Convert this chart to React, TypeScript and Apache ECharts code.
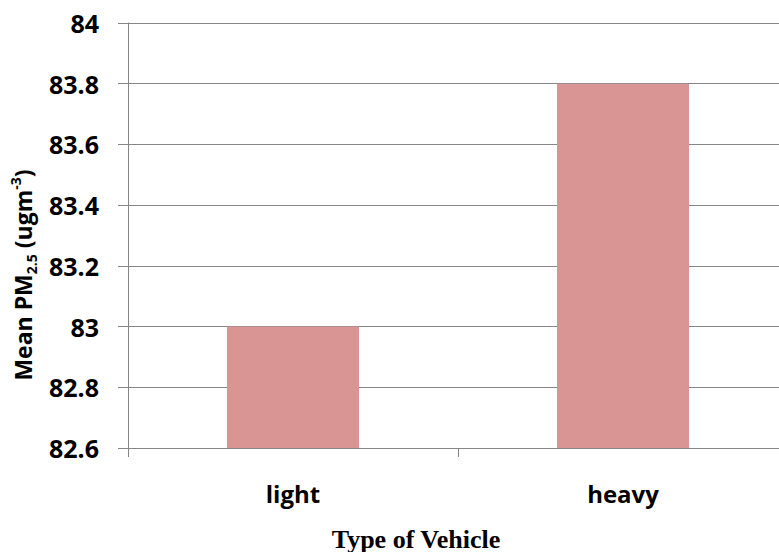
import React, { useEffect, useRef } from "react";
import * as echarts from "echarts";

const categories = ["light", "heavy"];
const meanPM25 = [83.0, 83.8];
const yMin = 82.6;
const yMax = 84;
const yInterval = 0.2;
const xTitle = "Type of Vehicle";

export default function App() {
  const ref = useRef<HTMLDivElement>(null);
  useEffect(() => {
    if (!ref.current) return;
    const chart = echarts.init(ref.current, null, { renderer: "svg" });
    const grey = "#858585";
    const sans = "'Open Sans', 'Noto Sans', sans-serif";
    chart.setOption({
      animation: false,
      backgroundColor: "#ffffff",
      grid: { left: 128, top: 23, width: 660, height: 425, containLabel: false },
      xAxis: {
        type: "category",
        data: categories,
        boundaryGap: true,
        axisLine: { show: true, lineStyle: { color: grey, width: 1 } },
        axisTick: { show: true, length: 9, alignWithLabel: false, lineStyle: { color: grey, width: 1 } },
        axisLabel: {
          margin: 33,
          color: "#000",
          fontFamily: sans,
          fontWeight: "bold",
          fontSize: 24,
        },
        splitLine: { show: false },
      },
      yAxis: {
        type: "value",
        min: yMin,
        max: yMax,
        interval: yInterval,
        axisLine: { show: true, lineStyle: { color: grey, width: 1 } },
        axisTick: { show: true, length: 10, lineStyle: { color: grey, width: 1 } },
        axisLabel: {
          margin: 29,
          color: "#000",
          fontFamily: sans,
          fontWeight: "bold",
          fontSize: 25,
        },
        splitLine: { show: true, lineStyle: { color: grey, width: 1 } },
      },
      series: [
        {
          type: "bar",
          data: meanPM25,
          barWidth: "40%",
          itemStyle: { color: "#D99594" },
        },
      ],
      graphic: [
        {
          type: "text",
          x: 416,
          y: 539,
          style: {
            text: xTitle,
            fontFamily: "'Liberation Serif', 'Times New Roman', serif",
            fontWeight: "bold",
            fontSize: 26,
            fill: "#000",
            textAlign: "center",
            textVerticalAlign: "middle",
          },
        },
        {
          type: "text",
          x: 23,
          y: 275,
          rotation: Math.PI / 2,
          style: {
            text: "{a|Mean PM}{b|2.5}{a| (ugm}{c|-3}{a|)}",
            textAlign: "center",
            textVerticalAlign: "middle",
            fill: "#000",
            rich: {
              a: { fontFamily: sans, fontWeight: "bold", fontSize: 23, lineHeight: 30, fill: "#000" },
              b: { fontFamily: sans, fontWeight: "bold", fontSize: 14, lineHeight: 14, verticalAlign: "bottom", fill: "#000" },
              c: { fontFamily: sans, fontWeight: "bold", fontSize: 14, lineHeight: 14, verticalAlign: "top", fill: "#000" },
            },
          },
        },
      ],
    });
    return () => chart.dispose();
  }, []);
  return (
    <div
      style={{ position: "fixed", left: 0, top: 0, width: 779, height: 552, overflow: "hidden", background: "#fff" }}
    >
      <div ref={ref} style={{ width: 800, height: 552 }} />
    </div>
  );
}
